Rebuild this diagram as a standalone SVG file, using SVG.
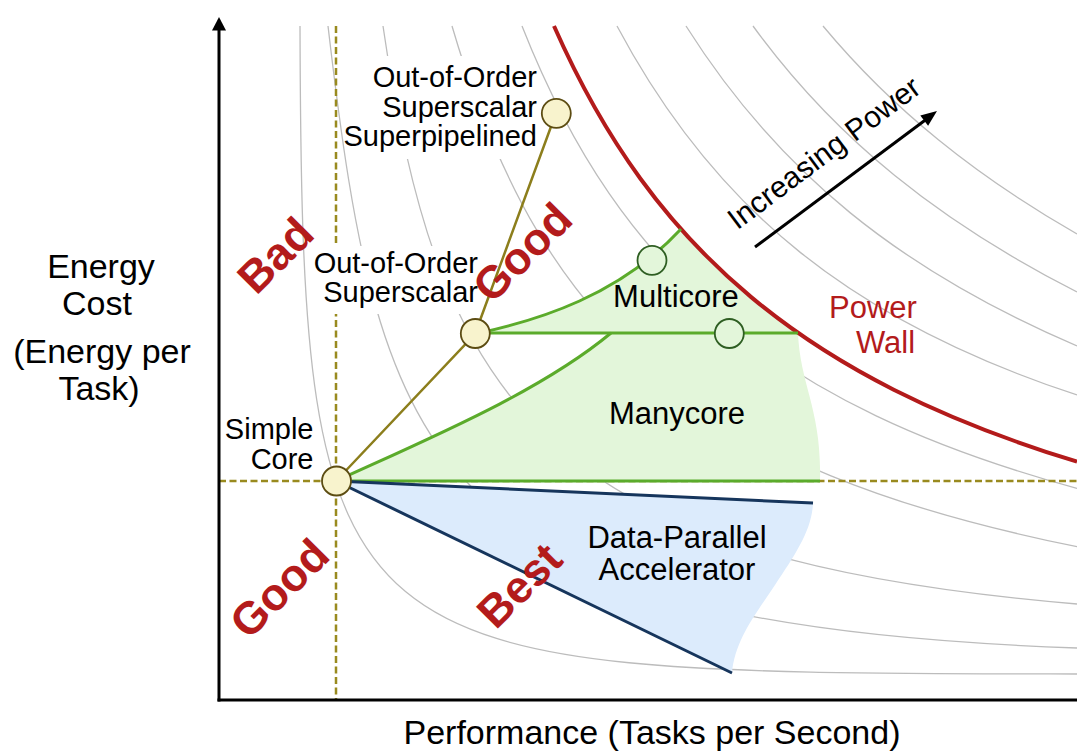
<svg xmlns="http://www.w3.org/2000/svg" width="1077" height="755" viewBox="0 0 1077 755">
<defs>
<style>
.iso{fill:none;stroke:#bcbcbc;stroke-width:1.3}
.dash{fill:none;stroke:#998a1f;stroke-width:2.5;stroke-dasharray:7 3.5}
.lbl{font-family:"Liberation Sans",Arial,sans-serif;font-size:29px;fill:#000;text-anchor:end}
.reg{font-family:"Liberation Sans",Arial,sans-serif;font-size:31px;fill:#000;text-anchor:middle}
.ax{font-family:"Liberation Sans",Arial,sans-serif;font-size:34px;fill:#000;text-anchor:middle}
.big{font-family:"Liberation Sans",Arial,sans-serif;font-size:45px;font-weight:bold;fill:#b31b1b;text-anchor:middle}
.pw{font-family:"Liberation Sans",Arial,sans-serif;font-size:31px;fill:#b31b1b}
.core{fill:#f8f3cd;stroke:#5c4c12;stroke-width:1.8}
.gnode{fill:#e3f6da;stroke:#2e5e22;stroke-width:1.8}
.gl{fill:none;stroke:#5bab2b;stroke-width:3}
.nv{fill:none;stroke:#16355c;stroke-width:3}
.box{fill:#fff}
</style>
</defs>
<rect width="1077" height="755" fill="#fff"/>
<g id="iso-curves">
<path class="iso" d="M300,26 C302,680 330,672 1077,674"/>
<path class="iso" d="M328,26 C380,470 430,625 1077,648"/>
<path class="iso" d="M383,26 C440,420 560,560 1077,604"/>
<path class="iso" d="M452,26 C499.5,187.8 562.7,294.5 658.7,374.5 C754.7,454.5 882.7,507.2 1077,546.7"/>
<path class="iso" d="M522,26 C572.4,153.7 636.4,246.7 724.3,319.9 C812.2,393.1 923.8,446.4 1077,488.4"/>
<path class="iso" d="M617,26 C716,212 855,322 1077,395"/>
<path class="iso" d="M686,26 C779,173 900,270 1077,346"/>
<path class="iso" d="M753,26 C836,140 940,222 1077,292"/>
<path class="iso" d="M823,26 C893,110 976,176 1077,234"/>
</g>
<g id="guides">
<path class="dash" d="M336,26 V700"/>
<path class="dash" d="M219,481 H1077"/>
</g>
<g id="label-backgrounds">
<rect class="box" x="350" y="56" width="155" height="103"/>
<rect class="box" x="312" y="246" width="160" height="68"/>
</g>
<g id="regions">
<path id="multi-many-fill" fill="#e3f6da" d="M475,334 C540,320 620,295 681,229 C715.5,267.9 754.2,302.2 798,333 C800,385 822,410 820,481 L336,481 C430,438 540,392 611,333 L475,334 Z"/>
<path id="accel-fill" fill="#dcebfc" d="M336,481 L813,503 C812,530 795,555 775,585 C755,615 735,640 732,673 Z"/>
</g>
<g id="power-wall">
<path fill="none" stroke="#b31b1b" stroke-width="4" d="M554,26 C604.7,140.8 667.7,227.4 751.2,297.1 C834.7,366.8 939.2,419.5 1077,461.7"/>
</g>
<g id="connectors">
<path fill="none" stroke="#8c7e1c" stroke-width="2.5" d="M336,481 L475,334 L556,113"/>
<path class="gl" d="M475,334 C540,320 620,295 681,229"/>
<path class="gl" d="M475,333 H798"/>
<path class="gl" d="M336,481 C430,438 540,392 611,333"/>
<path class="gl" d="M336,481 H820"/>
<path class="nv" d="M336,481 L813,503"/>
<path class="nv" d="M336,481 L732,673"/>
</g>
<g id="node-simple-core">
<circle class="core" cx="336.5" cy="481" r="14.5"/>
<text class="lbl" x="313.5" y="439">Simple</text>
<text class="lbl" x="313.5" y="469">Core</text>
</g>
<g id="node-ooo-superscalar">
<circle class="core" cx="475.3" cy="333.5" r="14.5"/>
<text class="lbl" x="478" y="273">Out-of-Order</text>
<text class="lbl" x="478" y="302">Superscalar</text>
</g>
<g id="node-ooo-superpipelined">
<circle class="core" cx="556.3" cy="113.3" r="14.5"/>
<text class="lbl" x="537" y="87">Out-of-Order</text>
<text class="lbl" x="537" y="117">Superscalar</text>
<text class="lbl" x="537" y="146">Superpipelined</text>
</g>
<g id="node-multicore">
<circle class="gnode" cx="652" cy="260.3" r="14.5"/>
<circle class="gnode" cx="729.3" cy="333.5" r="14.5"/>
<text class="reg" x="676" y="307">Multicore</text>
</g>
<g id="node-manycore">
<text class="reg" x="677" y="424">Manycore</text>
</g>
<g id="node-accelerator">
<text class="reg" x="677" y="548">Data-Parallel</text>
<text class="reg" x="677" y="580">Accelerator</text>
</g>
<g id="power-label">
<text class="pw" x="829" y="318">Power</text>
<text class="pw" x="856" y="353">Wall</text>
</g>
<g id="quality-labels">
<text class="big" transform="translate(275,255) rotate(-45)" y="16">Bad</text>
<text class="big" transform="translate(522,252) rotate(-45)" y="16">Good</text>
<text class="big" transform="translate(279,588) rotate(-45)" y="16">Good</text>
<text class="big" transform="translate(519,585) rotate(-45)" y="16">Best</text>
</g>
<g id="increasing-power">
<path fill="none" stroke="#000" stroke-width="3" d="M755,247 L926,119.5"/>
<polygon fill="#000" points="937,111 928.1,125.8 920.3,115.4"/>
<text font-family="Liberation Sans, Arial, sans-serif" font-size="30" text-anchor="middle" transform="translate(830,161) rotate(-36.8)">Increasing Power</text>
</g>
<g id="axes">
<path fill="none" stroke="#000" stroke-width="3" d="M219,701.5 V29"/>
<polygon fill="#000" points="219,17 212,30.5 226,30.5"/>
<path fill="none" stroke="#000" stroke-width="3" d="M217.5,700 H1077"/>
<text class="ax" x="101" y="278">Energy</text>
<text class="ax" x="97" y="315">Cost</text>
<text class="ax" x="102" y="363">(Energy per</text>
<text class="ax" x="99" y="400">Task)</text>
<text class="ax" x="652" y="744" font-size="35.5">Performance (Tasks per Second)</text>
</g>
</svg>
